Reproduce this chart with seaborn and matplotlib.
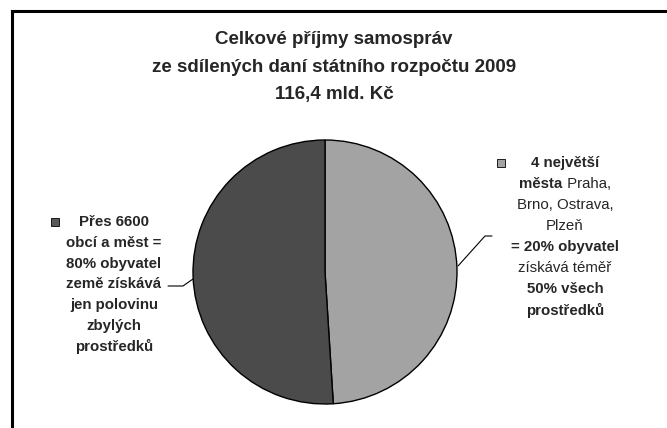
import matplotlib
matplotlib.use("Agg")
import matplotlib.pyplot as plt
import seaborn as sns
from matplotlib.patches import Rectangle
from matplotlib.lines import Line2D

sns.set_style("white")
plt.rcParams['font.family'] = ['Liberation Sans', 'DejaVu Sans']

# Data
categories = ["4 největší města", "Přes 6600 obcí a měst"]
values = [49.0, 51.0]
colors = ["#a3a3a3", "#4b4b4b"]
title_lines = ["Celkové příjmy samospráv",
               "ze sdílených daní státního rozpočtu 2009",
               "116,4 mld. Kč"]
left_label = ["Přes 6600", "obcí a měst =", "80% obyvatel", "země získává",
              "jen polovinu", "zbylých", "prostředků"]
right_label = [[("4 největší", "bold")],
               [("města", "bold"), (" Praha,", "normal")],
               [("Brno, Ostrava,", "normal")],
               [("Plzeň", "normal")],
               [("= 20% obyvatel", "bold")],
               [("získává téměř", "normal")],
               [("50% všech", "bold")],
               [("prostředků", "bold")]]

W, H = 667, 428
fig = plt.figure(figsize=(W / 100, H / 100), dpi=100)
fig.patch.set_facecolor("white")

def fx(px):
    return px / W

def fy(py):
    return 1 - py / H

# Pie axes: center (325, 272), radius 132 px
cx, cy, r = 325, 272, 132
ax = fig.add_axes([fx(cx - r), fy(cy + r), 2 * r / W, 2 * r / H])
ax.pie(values, colors=colors, startangle=90, counterclock=False,
       wedgeprops=dict(edgecolor="black", linewidth=1.0))
ax.set_xlim(-1.0, 1.0)
ax.set_ylim(-1.0, 1.0)
ax.set_aspect("equal", adjustable="box")
ax.axis("off")

# Frame
fig.add_artist(Line2D([fx(12), fx(12)], [fy(11), 0], color="black", lw=2.2,
                      transform=fig.transFigure, solid_capstyle="projecting"))
fig.add_artist(Line2D([fx(12), 1], [fy(11), fy(11)], color="black", lw=2.2,
                      transform=fig.transFigure, solid_capstyle="projecting"))

# Title
for i, t in enumerate(title_lines):
    fig.text(fx(334), fy(40 + i * 27.5), t, ha="center", va="center",
             fontsize=13.5, fontweight="bold")

# Left label
for i, t in enumerate(left_label):
    fig.text(fx(114), fy(222 + i * 20.8), t, ha="center", va="center",
             fontsize=10.8, fontweight="bold")
fig.add_artist(Rectangle((fx(51), fy(226)), 8 / W, 8 / H, facecolor="#595959",
                         edgecolor="black", lw=0.6, transform=fig.transFigure))

# Right label with mixed weights
fig.canvas.draw()
renderer = fig.canvas.get_renderer()
for i, segs in enumerate(right_label):
    ypix = 163 + i * 21
    texts = []
    widths = []
    for s, w in segs:
        t = fig.text(0, fy(ypix), s, ha="left", va="center", fontsize=10.8, fontweight=w)
        texts.append(t)
        widths.append(t.get_window_extent(renderer).width)
    total = sum(widths)
    start = 565 - total / 2
    for t, wdt in zip(texts, widths):
        t.set_x(fx(start))
        start += wdt
fig.add_artist(Rectangle((fx(497), fy(167)), 8 / W, 8 / H, facecolor="#a3a3a3",
                         edgecolor="black", lw=0.6, transform=fig.transFigure))

# Leader lines
fig.add_artist(Line2D([fx(458), fx(485), fx(492)], [fy(266), fy(236), fy(236)],
                      color="black", lw=0.8, transform=fig.transFigure))
fig.add_artist(Line2D([fx(168), fx(183), fx(193)], [fy(286), fy(286), fy(279)],
                      color="black", lw=0.8, transform=fig.transFigure))

fig.savefig("out.png", dpi=100, facecolor="white")
